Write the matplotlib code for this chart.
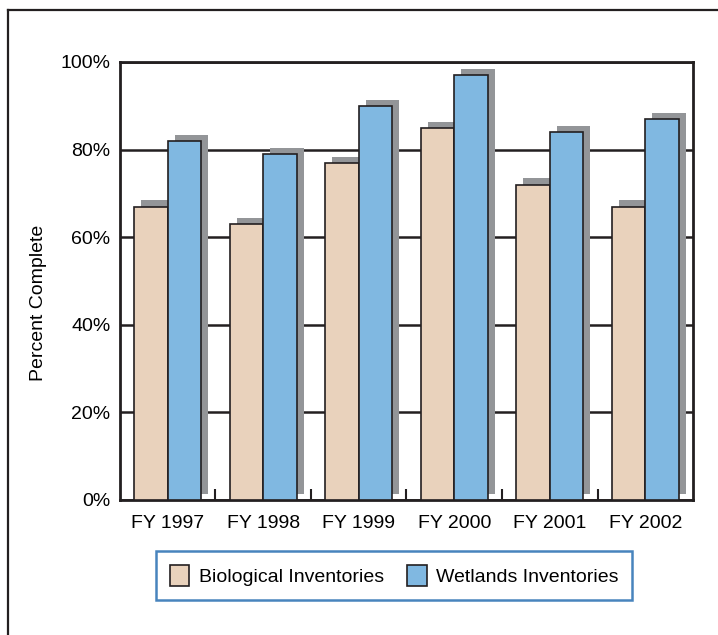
import numpy as np
import matplotlib as mpl
import matplotlib.pyplot as plt
from matplotlib.lines import Line2D
from matplotlib.patches import Patch

mpl.rcParams.update({
    "font.family": ["Liberation Sans", "DejaVu Sans"],
    "font.size": 14,
})

years = ["FY 1997", "FY 1998", "FY 1999", "FY 2000", "FY 2001", "FY 2002"]
biological = [67, 63, 77, 85, 72, 67]
wetlands = [82, 79, 90, 97, 84, 87]

BIO_COLOR = "#E9D2BC"
WET_COLOR = "#80B8E1"
SHADOW = "#939598"
INK = "#231F20"

fig = plt.figure(figsize=(7.18, 6.35), dpi=100)
ax = fig.add_axes([0.1671, 0.2126, 0.7981, 0.6898])

x = np.arange(len(years))
w = 0.35
dx, dy = 0.073, 1.4  # shadow offset (data units)

# shadows first
ax.bar(x - w / 2 + dx, biological, w, bottom=dy, color=SHADOW, zorder=2)
ax.bar(x + w / 2 + dx, wetlands, w, bottom=dy, color=SHADOW, zorder=2)
ax.bar(x - w / 2, biological, w, color=BIO_COLOR, edgecolor=INK,
       linewidth=1.2, zorder=3)
ax.bar(x + w / 2, wetlands, w, color=WET_COLOR, edgecolor=INK,
       linewidth=1.2, zorder=3)

ax.set_xlim(-0.5, len(years) - 0.5)
ax.set_ylim(0, 100)
ax.set_yticks(range(0, 101, 20))
ax.set_yticklabels([f"{v}%" for v in range(0, 101, 20)])
ax.set_xticks(x)
ax.set_xticklabels(years)
ax.set_xticks(x[:-1] + 0.5, minor=True)
ax.tick_params(axis="x", which="major", length=0, pad=11)
ax.tick_params(axis="x", which="minor", direction="in", length=8,
               width=1.5, color=INK)
ax.tick_params(axis="y", length=0, pad=7)
ax.yaxis.grid(True, color=INK, linewidth=1.8, zorder=1)
ax.set_axisbelow(True)
for s in ax.spines.values():
    s.set_linewidth(2)
    s.set_color(INK)
ax.set_ylabel("Percent Complete")
ax.yaxis.set_label_coords(-0.128, 0.45)

handles = [Patch(facecolor=BIO_COLOR, edgecolor=INK, linewidth=1.2),
           Patch(facecolor=WET_COLOR, edgecolor=INK, linewidth=1.2)]
leg = fig.legend(handles, ["Biological Inventories", "Wetlands Inventories"],
                 loc="center", bbox_to_anchor=(0.549, 0.094), ncol=2,
                 fancybox=False, frameon=True, handlelength=1.0,
                 handleheight=1.3, columnspacing=1.2, handletextpad=0.5,
                 borderpad=0.7, fontsize=14)
leg.get_frame().set_edgecolor("#1A66AD")
leg.get_frame().set_linewidth(1.8)

# outer frame (left and top edges)
fig.add_artist(Line2D([7.5 / 718, 7.5 / 718], [0, 1 - 10 / 635],
                      transform=fig.transFigure, color=INK, linewidth=1.6))
fig.add_artist(Line2D([7.5 / 718, 1], [1 - 10 / 635, 1 - 10 / 635],
                      transform=fig.transFigure, color=INK, linewidth=1.6))

fig.savefig("out.png", dpi=100)
